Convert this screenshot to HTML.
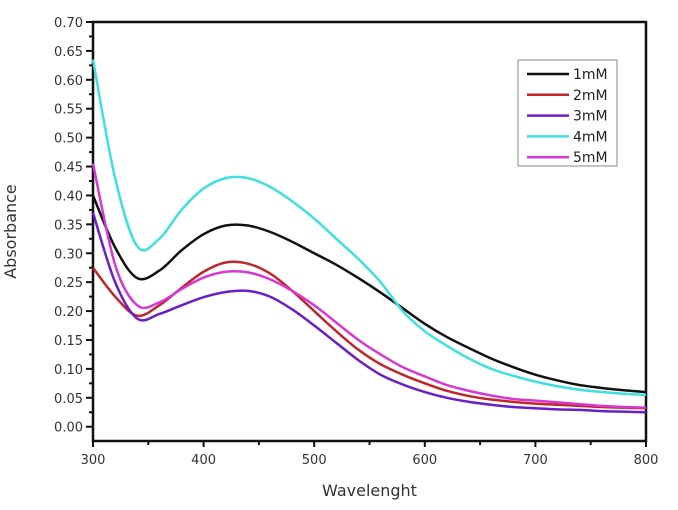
<!DOCTYPE html>
<html><head><meta charset="utf-8"><style>
html,body{margin:0;padding:0;background:#fff;}
svg{display:block;font-family:"DejaVu Sans","Liberation Sans",sans-serif;}
</style></head><body>
<svg id="chart" width="678" height="510" viewBox="0 0 678 510" xmlns="http://www.w3.org/2000/svg">
<g id="axes"></g>
<g id="series"></g>
<g id="legend"></g>
</svg>
<script>
const xTicks = [300,400,500,600,700,800];
const yTicks = [0,0.05,0.1,0.15,0.2,0.25,0.3,0.35,0.4,0.45,0.5,0.55,0.6,0.65,0.7];
const seriesNames = ["1mM","2mM","3mM","4mM","5mM"];
const seriesColors = ["#111111","#c0262a","#6a1fc8","#3ee0e0","#d638d6"];
const wavelengths = [300,320,340,360,380,400,420,440,460,480,500,520,540,560,580,600,620,640,660,680,700,720,740,760,780,800];
const abs1 = [0.40,0.31,0.257,0.27,0.305,0.333,0.348,0.348,0.337,0.32,0.30,0.28,0.257,0.232,0.205,0.178,0.155,0.136,0.118,0.103,0.09,0.08,0.072,0.067,0.063,0.06];
const abs2 = [0.275,0.225,0.192,0.21,0.24,0.268,0.284,0.282,0.265,0.235,0.20,0.165,0.133,0.108,0.09,0.075,0.062,0.053,0.047,0.043,0.04,0.038,0.036,0.034,0.033,0.032];
const abs3 = [0.37,0.25,0.187,0.195,0.21,0.224,0.233,0.235,0.225,0.203,0.175,0.145,0.115,0.09,0.073,0.06,0.05,0.043,0.038,0.034,0.032,0.03,0.029,0.027,0.026,0.025];
const abs4 = [0.635,0.43,0.312,0.325,0.375,0.412,0.43,0.43,0.415,0.39,0.36,0.325,0.29,0.25,0.20,0.165,0.14,0.118,0.10,0.088,0.078,0.07,0.064,0.06,0.057,0.055];
const abs5 = [0.455,0.28,0.21,0.215,0.238,0.258,0.268,0.267,0.255,0.235,0.21,0.18,0.15,0.125,0.103,0.087,0.072,0.062,0.054,0.048,0.045,0.042,0.039,0.036,0.034,0.033];
const allY = [abs1,abs2,abs3,abs4,abs5];

const NS="http://www.w3.org/2000/svg";
const L=93,R=646,T=22,B=441,Y0=426.7;
function xs(v){return L+(v-300)/500*(R-L);}
function ys(v){return Y0-v/0.7*(Y0-T);}
function mk(tag,attrs,parent){const e=document.createElementNS(NS,tag);for(const k in attrs)e.setAttribute(k,attrs[k]);parent.appendChild(e);return e;}
const axes=document.getElementById('axes');
const frame=mk('path',{d:`M${L},${B}H${R}V${T}H${L}Z`,fill:'none',stroke:'#111','stroke-width':2.5},axes);


for(let v=300;v<=800;v+=50){
  const major=v%100===0;
  const t=mk('line',{x1:xs(v),x2:xs(v),y1:B,y2:B+(major?6:4),stroke:'#111','stroke-width':2},axes);
  
  
}
xTicks.forEach(v=>{
  const t=mk('text',{x:xs(v),y:B+23,'text-anchor':'middle','font-size':13,fill:'#333'},axes);
  t.textContent=v;
  
  
});
for(let i=0;i<=28;i++){
  const v=i*0.025;const major=i%2===0;
  const t=mk('line',{x1:L,x2:L-(major?7:4),y1:ys(v),y2:ys(v),stroke:'#111','stroke-width':2},axes);
  
  
}
yTicks.forEach(v=>{
  const t=mk('text',{x:L-10,y:ys(v)+5,'text-anchor':'end','font-size':13,fill:'#333'},axes);
  t.textContent=v.toFixed(2);
  
  
});
const xt=mk('text',{x:(L+R)/2,y:496,'text-anchor':'middle','font-size':16,fill:'#333'},axes);
xt.textContent='Wavelenght';


const yt=mk('text',{x:0,y:0,'text-anchor':'middle','font-size':16,fill:'#333',transform:`translate(16,${(T+B)/2}) rotate(-90)`},axes);
yt.textContent='Absorbance';



function spline(px,py){
  let d=`M${px[0]},${py[0]}`;
  for(let i=0;i<px.length-1;i++){
    const x0=px[Math.max(i-1,0)],y0=py[Math.max(i-1,0)];
    const x1=px[i],y1=py[i],x2=px[i+1],y2=py[i+1];
    const x3=px[Math.min(i+2,px.length-1)],y3=py[Math.min(i+2,px.length-1)];
    d+=`C${x1+(x2-x0)/6},${y1+(y2-y0)/6} ${x2-(x3-x1)/6},${y2-(y3-y1)/6} ${x2},${y2}`;
  }
  return d;
}
const sg=document.getElementById('series');
[0,1,2,4,3].forEach(i=>{
  const px=wavelengths.map(xs),py=allY[i].map(ys);
  const p=mk('path',{d:spline(px,py),fill:'none',stroke:seriesColors[i],'stroke-width':2.5},sg);
  
  
});
const lg=document.getElementById('legend');
const box=mk('rect',{x:518,y:60,width:99,height:106,fill:'#fff',stroke:'#888','stroke-width':1},lg);


seriesNames.forEach((n,i)=>{
  const y=74+i*20.8;
  const l=mk('line',{x1:527,x2:569,y1:y,y2:y,stroke:seriesColors[i],'stroke-width':2.5},lg);
  
  
  const t=mk('text',{x:573,y:y+5,'font-size':14,fill:'#222'},lg);
  t.textContent=n;
  
  
});
</script>
</body></html>
